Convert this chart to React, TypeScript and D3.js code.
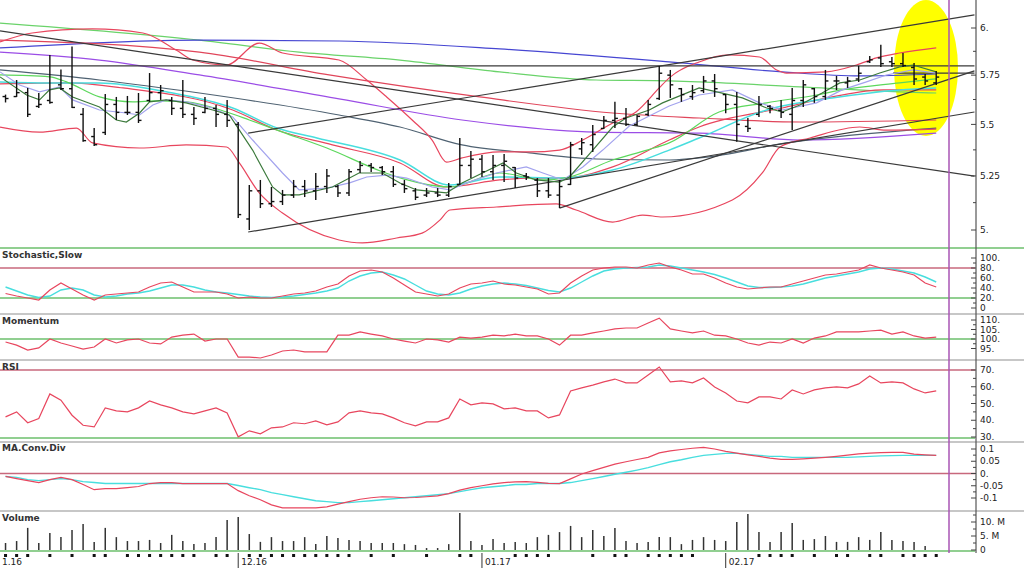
import * as d3 from "d3";

// ---- daily price bars, bar index 0..84 ----
const high = [5.65,5.725,5.684,5.658,5.856,5.78,5.90,5.582,5.482,5.653,
  5.638,5.643,5.658,5.761,5.699,5.638,5.725,5.587,5.638,5.597,
  5.623,5.512,5.207,5.231,5.198,5.184,5.231,5.231,5.264,5.283,
  5.207,5.283,5.321,5.312,5.297,5.297,5.231,5.193,5.193,5.193,
  5.217,5.433,5.37,5.35,5.35,5.355,5.293,5.264,5.24,5.24,
  5.231,5.414,5.433,5.497,5.542,5.613,5.582,5.547,5.623,5.798,
  5.777,5.684,5.699,5.746,5.756,5.653,5.663,5.532,5.643,5.597,
  5.623,5.684,5.725,5.684,5.777,5.746,5.741,5.798,5.85,5.91,
  5.845,5.866,5.813,5.756,5.772];
const low = [5.61,5.638,5.537,5.582,5.603,5.673,5.582,5.414,5.394,5.448,
  5.522,5.547,5.507,5.613,5.623,5.547,5.532,5.497,5.556,5.487,
  5.487,5.054,5.0,5.10,5.105,5.114,5.147,5.151,5.137,5.17,
  5.151,5.156,5.264,5.269,5.254,5.198,5.17,5.137,5.151,5.151,
  5.151,5.207,5.24,5.245,5.231,5.221,5.193,5.231,5.151,5.147,
  5.10,5.207,5.35,5.365,5.477,5.482,5.492,5.492,5.542,5.623,
  5.633,5.613,5.623,5.658,5.638,5.556,5.414,5.462,5.537,5.556,
  5.532,5.472,5.587,5.608,5.623,5.673,5.684,5.715,5.813,5.793,
  5.793,5.793,5.699,5.699,5.699];
const open = [5.64,5.64,5.66,5.59,5.62,5.70,5.68,5.55,5.44,5.46,
  5.60,5.56,5.56,5.62,5.66,5.62,5.58,5.55,5.56,5.58,
  5.55,5.50,5.05,5.18,5.12,5.13,5.16,5.20,5.18,5.20,
  5.20,5.17,5.28,5.30,5.29,5.27,5.21,5.18,5.16,5.17,
  5.16,5.21,5.30,5.33,5.27,5.30,5.29,5.25,5.23,5.18,
  5.16,5.21,5.38,5.40,5.48,5.52,5.53,5.50,5.55,5.63,
  5.75,5.68,5.64,5.67,5.72,5.65,5.60,5.49,5.55,5.59,
  5.57,5.55,5.62,5.68,5.64,5.72,5.71,5.73,5.82,5.84,
  5.82,5.81,5.79,5.74,5.71];
const close = [5.63,5.66,5.55,5.60,5.61,5.68,5.585,5.42,5.40,5.60,
  5.56,5.56,5.52,5.66,5.67,5.58,5.55,5.53,5.58,5.55,
  5.52,5.07,5.18,5.12,5.13,5.16,5.20,5.18,5.20,5.25,
  5.17,5.27,5.30,5.29,5.27,5.21,5.19,5.15,5.17,5.16,
  5.20,5.30,5.33,5.27,5.30,5.32,5.24,5.245,5.18,5.16,
  5.20,5.40,5.41,5.45,5.52,5.53,5.50,5.54,5.60,5.76,
  5.70,5.65,5.66,5.72,5.68,5.60,5.50,5.48,5.60,5.58,
  5.56,5.62,5.70,5.64,5.72,5.72,5.72,5.76,5.83,5.81,
  5.81,5.80,5.73,5.72,5.74];
// volume in millions
const volume = [2.5,3.2,7.9,2.5,6.1,4.6,7.1,9.3,2.9,7.9,
  4.6,3.2,3.2,3.6,2.5,5.4,3.2,2.1,2.5,4.6,
  10.7,11.8,5.7,2.9,4.6,3.2,3.2,4.6,2.1,5.0,
  4.3,3.6,3.2,2.5,2.5,2.5,2.1,1.8,0.7,0.7,
  2.1,13.2,3.2,1.8,3.9,2.5,2.9,2.5,4.6,5.4,
  6.4,8.6,4.6,7.1,5.0,7.9,3.2,2.5,2.9,4.6,
  4.6,2.1,3.6,4.6,3.6,3.2,10.0,12.9,6.4,2.9,
  6.4,9.6,3.6,3.9,5.0,2.9,2.9,4.6,3.6,6.4,
  3.6,3.2,2.9,1.4,0];

// ---- indicators ----
const stochK = [29,24,20,16,36,50,38,26,16,26,
  28,30,32,42,50,52,42,32,32,32,
  28,20,22,20,20,24,28,30,34,42,
  48,64,74,76,72,60,46,32,28,24,
  28,40,48,50,54,48,46,42,38,28,
  30,50,64,76,80,82,82,80,86,90,
  82,76,68,68,60,50,42,38,40,42,
  42,48,54,60,66,68,72,76,86,80,
  76,72,66,50,42];
const stochD = [42,34,26,21,24,36,40,36,26,22,
  24,28,30,34,40,46,46,42,36,32,
  30,27,24,22,21,22,24,27,30,34,
  40,54,64,70,72,66,58,46,34,28,
  26,30,38,44,48,50,48,45,40,35,
  32,40,52,64,74,78,80,81,82,86,
  84,80,76,72,67,60,52,44,41,41,
  42,44,48,54,60,64,68,72,78,80,
  78,74,70,62,52];
const momentum = [98.4,96.8,94.2,95.3,100,97.9,96.3,94.7,95.8,100,
  97.9,99.5,100,97.9,97.4,101,102,102.6,98.9,100,
  100,90.5,90.5,90,91.6,93.7,94.2,93.2,93.2,93.2,
  102,102,103.7,102.6,101.6,100,98.9,97.9,100,99.5,
  98.4,101,100.5,101,102,101.6,102.6,101.6,101.6,100,
  96.8,102,102,103.2,104.2,105.3,105.8,105.8,108.4,111,
  105.3,104.2,103.2,104.2,102,101.6,100,97.9,96.8,98.4,
  97.9,100,97.9,100.5,101.6,103.7,103.7,103.7,104.2,104.7,
  102.6,103.7,101.6,100.5,101];
const rsi = [42,45,38.5,41,55.7,52,43,37,36,47.4,
  45.6,45,47.4,51.5,49.2,47.4,45,43.8,45.6,47.4,
  44.4,30.1,33.7,31.9,35.5,36,38.5,37.9,39.6,37.3,
  39,44.4,45.6,44.4,43.8,41.4,38.5,36.7,39,39,
  41.4,52.7,49.2,50.4,49.8,46.8,47.4,45.6,45.6,41.4,
  43.2,57.5,59.3,61,62.9,64.6,62.3,62.3,67,71.8,
  62.9,63.5,62.3,65.2,59.9,56.3,51.5,50.4,53.9,53.9,
  52.7,58.1,55.7,58.1,59.3,59.9,59.3,61.7,66.4,62.3,
  62.9,62.3,58.7,56.3,57.5];
const macd = [-0.012,-0.021,-0.029,-0.037,-0.025,-0.016,-0.025,-0.045,-0.066,-0.062,
  -0.062,-0.058,-0.053,-0.041,-0.037,-0.037,-0.041,-0.041,-0.041,-0.041,
  -0.041,-0.07,-0.091,-0.107,-0.128,-0.14,-0.14,-0.14,-0.14,-0.136,
  -0.125,-0.115,-0.105,-0.099,-0.095,-0.096,-0.099,-0.098,-0.095,-0.091,
  -0.082,-0.068,-0.058,-0.05,-0.042,-0.037,-0.034,-0.033,-0.036,-0.04,
  -0.041,-0.022,-0.002,0.012,0.025,0.038,0.048,0.057,0.066,0.084,
  0.092,0.098,0.103,0.107,0.1,0.09,0.083,0.076,0.07,0.063,
  0.058,0.058,0.06,0.063,0.066,0.07,0.075,0.08,0.083,0.085,
  0.086,0.086,0.079,0.076,0.074];
const macdSignal = [-0.012,-0.016,-0.025,-0.029,-0.025,-0.021,-0.025,-0.033,-0.037,-0.041,
  -0.041,-0.041,-0.041,-0.041,-0.041,-0.041,-0.041,-0.041,-0.041,-0.041,
  -0.041,-0.049,-0.058,-0.066,-0.078,-0.086,-0.095,-0.103,-0.111,-0.115,
  -0.119,-0.119,-0.115,-0.111,-0.107,-0.103,-0.099,-0.095,-0.091,-0.087,
  -0.082,-0.074,-0.066,-0.058,-0.054,-0.05,-0.045,-0.045,-0.041,-0.041,
  -0.041,-0.037,-0.029,-0.021,-0.012,-0.003,0.005,0.014,0.024,0.036,
  0.048,0.056,0.066,0.074,0.078,0.082,0.082,0.078,0.074,0.07,
  0.07,0.066,0.066,0.066,0.066,0.066,0.066,0.068,0.07,0.072,
  0.073,0.074,0.074,0.074,0.074];

// ---- overlays on the price panel: [bar, price] ----
const bbUpper = [[-0.5,5.925],[2.4,5.973],[7.85,5.995],[12.4,5.973],[15.4,5.882],[16.9,5.829],[19.95,5.803],[22.9,5.919],[25,5.866],[30.1,5.829],[32.6,5.725],[34.4,5.638],[36.7,5.522],[38.5,5.423],[39.8,5.316],[41.2,5.336],[44.6,5.365],[47.3,5.365],[50,5.374],[52.1,5.423],[54.8,5.507],[56.9,5.562],[59,5.684],[59.9,5.736],[62.6,5.819],[65.3,5.856],[68.05,5.845],[69.6,5.777],[70.5,5.761],[74.1,5.767],[76.8,5.803],[78.6,5.84],[80.7,5.866],[84,5.893]];
const bbLower = [[-0.5,5.487],[3.07,5.462],[6.4,5.482],[7.85,5.409],[12.1,5.384],[16.3,5.399],[19.95,5.389],[21.1,5.312],[22.9,5.17],[25,5.077],[30.1,4.955],[32.2,4.942],[35.3,4.964],[37.6,4.986],[39.2,5.045],[40.1,5.091],[44.3,5.105],[49.7,5.119],[51.5,5.091],[54.8,5.036],[57.5,5.068],[59.3,5.059],[65.6,5.137],[68.3,5.264],[69.9,5.389],[72.6,5.433],[77.1,5.487],[79.5,5.472],[84,5.477]];
const bbMid = [[-0.5,5.705],[5.5,5.71],[10.6,5.684],[20.5,5.572],[24.5,5.472],[29.5,5.399],[35.6,5.312],[39.8,5.198],[44.6,5.231],[47.3,5.24],[50.3,5.24],[54.8,5.293],[59.9,5.423],[62.6,5.487],[70.1,5.582],[74.6,5.638],[79.2,5.674],[84,5.674]];
const maRed = [[-0.5,5.935],[17.5,5.871],[29.2,5.751],[42.8,5.638],[54.8,5.557],[62.6,5.532],[71.7,5.512],[84,5.522]];
const maGreenLong = [[-0.5,6.027],[17.5,5.935],[26.5,5.871],[35.6,5.829],[44.6,5.767],[53.3,5.725],[59.9,5.72],[62.6,5.715],[71.7,5.689],[80.7,5.664],[84,5.658]];
const maBlue = [[-0.5,5.893],[17.5,5.935],[30.1,5.93],[44.6,5.888],[59.9,5.819],[70.1,5.767],[77.1,5.746],[84,5.756]];
const maPurple = [[-0.5,5.871],[8.48,5.829],[17.5,5.751],[30.1,5.628],[41.2,5.522],[53.3,5.462],[62.6,5.457],[71.7,5.423],[84,5.457]];
const maSlate = [[-0.5,5.777],[8.48,5.725],[17.5,5.658],[30.1,5.547],[35.6,5.487],[41.2,5.399],[47.3,5.36],[53.3,5.331],[59.9,5.326],[63.5,5.341],[70.5,5.409],[84,5.482]];
const maCyan = [[-0.5,5.715],[3.97,5.71],[8.48,5.71],[14.5,5.664],[20.5,5.582],[24.5,5.482],[28.1,5.433],[35.6,5.326],[40.1,5.207],[44.6,5.245],[50.3,5.24],[54.8,5.278],[59.9,5.374],[62.6,5.433],[68.7,5.572],[74.6,5.633],[80.7,5.674],[84,5.684]];
const maGreenMid = [[-0.5,5.751],[3.97,5.741],[5.5,5.715],[8.48,5.638],[11.5,5.613],[13.6,5.618],[16.3,5.613],[19.95,5.562],[22,5.522],[25,5.462],[29,5.384],[34,5.27],[36,5.235],[40.1,5.198],[44.6,5.264],[48.5,5.231],[50.9,5.245],[54.8,5.326],[57.9,5.374],[59.9,5.409],[64.4,5.562],[68.7,5.608],[73.2,5.648],[75.5,5.674],[80.7,5.71],[84,5.731]];
const maDark = [[-0.5,5.741],[1.9,5.648],[3.07,5.623],[3.97,5.674],[4.87,5.684],[6.05,5.638],[8.48,5.587],[10,5.522],[10.9,5.512],[12.1,5.557],[13,5.613],[14.5,5.623],[16.3,5.608],[18.7,5.572],[20.2,5.547],[22.3,5.374],[24.1,5.198],[25,5.161],[26.5,5.161],[29.5,5.198],[31.9,5.264],[34,5.264],[35.6,5.217],[37.1,5.184],[39.8,5.17],[41.2,5.217],[44.9,5.312],[46.1,5.264],[47.9,5.231],[50,5.221],[50.9,5.245],[53,5.374],[54.8,5.487],[56,5.532],[58.1,5.572],[59.3,5.608],[62.6,5.684],[64.2,5.664],[66.5,5.633],[68.7,5.582],[70.1,5.562],[71.7,5.597],[73.7,5.658],[75.3,5.71],[77.1,5.725],[78.9,5.761],[80.7,5.793],[81.9,5.803],[84,5.767]];
const maLavender = [[-0.5,5.767],[1.26,5.699],[3.07,5.664],[4.87,5.689],[6.05,5.623],[8.48,5.572],[10.9,5.557],[12.1,5.547],[13.3,5.597],[14.5,5.623],[16.3,5.613],[18.7,5.582],[20.5,5.537],[22.3,5.423],[25,5.264],[26.5,5.184],[29,5.193],[31.05,5.217],[32.6,5.245],[34.4,5.254],[36.2,5.24],[38.5,5.198],[40.1,5.184],[41.6,5.217],[44.3,5.264],[47,5.293],[48.5,5.264],[50.3,5.231],[52.1,5.293],[53.9,5.374],[56.3,5.492],[58.1,5.542],[59.9,5.592],[62.6,5.648],[65.6,5.674],[68.05,5.608],[70.1,5.572],[73.2,5.608],[75.5,5.674],[77.7,5.715],[79.5,5.751],[81.9,5.777],[84,5.761]];
const trendLines = [
  [[-0.5,5.984],[87.45,5.249]],
  [[-0.5,5.798],[87.45,5.798]],
  [[21.9,4.991],[87.45,5.562]],
  [[21.9,5.457],[87.45,6.071]],
  [[50,5.10],[87.45,5.772]],
  [[80.1,5.761],[87.45,5.761]],
];

// ---- axis ticks ----
const priceTicks = [5, 5.25, 5.5, 5.75, 6];
const priceLabels = ["5.", "5.25", "5.5", "5.75", "6."];
const priceMinor = [5.125, 5.375, 5.625, 5.875];
const stochTicks = [0, 20, 40, 60, 80, 100];
const stochLabels = ["0", "20.", "40.", "60.", "80.", "100."];
const momTicks = [95, 100, 105, 110];
const momLabels = ["95.", "100.", "105.", "110."];
const rsiTicks = [30, 40, 50, 60, 70];
const rsiLabels = ["30.", "40.", "50.", "60.", "70."];
const macdTicks = [-0.1, -0.05, 0, 0.05, 0.1];
const macdLabels = ["-0.1", "-0.05", "0.", "0.05", "0.1"];
const volTicks = [0, 5, 10];
const volLabels = ["0", "5. M", "10. M"];
const monthBars = [21, 43, 65];
const monthLabels = ["12.16", "01.17", "02.17"];
const markerBars = [0,1,2,4,6,8,9,11,12,13,14,15,16,17,19,20,22,23,24,25,26,27,28,29,30,31,33,35,38,41,42,46,47,48,49,53,55,56,58,59,60,61,62,68,69,70,71,73,75,76,78,79,81,82,83,84];

const W = 1024;
const H = 568;
const PLOT_W = 975;
const AX = 976;
const FONT = "DejaVu Sans, Verdana, sans-serif";

const x = d3.scaleLinear().domain([-0.5, 87.5]).range([0, PLOT_W]);
const yPrice = d3.scaleLog().domain([5, 6]).range([230, 28]);
const yStoch = d3.scaleLinear().domain([0, 100]).range([308, 258]);
const yMom = d3.scaleLinear().domain([90, 110]).range([358, 320]);
const yRsi = d3.scaleLinear().domain([30, 70]).range([437, 370]);
const yMacd = d3.scaleLinear().domain([-0.1, 0.1]).range([498, 449]);
const yVol = d3.scaleLinear().domain([0, 10]).range([550, 522]);

const RED = "#e8465e";
const GREEN_REF = "#6cbf6c";
const RED_REF = "#c8687c";
const GRAY_SEP = "#b4b4b4";

function series(values: number[], y: any) {
  return d3.line<number>().x((_, i) => x(i)).y((d) => y(d))(values) || "";
}
function overlay(pts: number[][], curved = true) {
  const gen = d3.line<number[]>().x((d) => x(d[0])).y((d) => yPrice(d[1]));
  if (curved) gen.curve(d3.curveMonotoneX);
  return gen(pts) || "";
}

function Axis({ y, ticks, labels, minor }: any) {
  return (
    <g>
      {ticks.map((t: number, i: number) => (
        <g key={"t" + i}>
          <line x1={AX - 5} x2={AX} y1={y(t)} y2={y(t)} stroke="#444" />
          <text x={AX + 4} y={y(t)} dy="0.35em" fontSize={9} fontFamily={FONT} fill="#222">
            {labels[i]}
          </text>
        </g>
      ))}
      {minor.map((t: number, i: number) => (
        <line key={"m" + i} x1={AX - 3} x2={AX} y1={y(t)} y2={y(t)} stroke="#444" />
      ))}
    </g>
  );
}

function Title({ y, text }: { y: number; text: string }) {
  return (
    <text x={2} y={y} dy="0.35em" fontSize={9} fontWeight="bold" fontFamily={FONT} fill="#333">
      {text}
    </text>
  );
}

export default function App() {
  const idx = d3.range(high.length);
  return (
    <svg width={W} height={H} style={{ position: "absolute", left: 0, top: 0, background: "#fff" }}>
      <defs>
        <clipPath id="mainClip">
          <rect x={0} y={0} width={PLOT_W} height={247} />
        </clipPath>
      </defs>
      <rect width={W} height={H} fill="#fff" />

      {/* highlight */}
      <ellipse cx={926} cy={68} rx={32} ry={68} fill="#ffff00" />

      {/* panel separators and reference lines */}
      <line x1={0} x2={W} y1={248} y2={248} stroke={GREEN_REF} strokeWidth={1.5} />
      {[314, 360, 442, 511].map((v) => (
        <line key={v} x1={0} x2={W} y1={v} y2={v} stroke={GRAY_SEP} strokeWidth={1.5} />
      ))}
      <line x1={0} x2={PLOT_W} y1={yStoch(80)} y2={yStoch(80)} stroke={RED_REF} strokeWidth={1.5} />
      <line x1={0} x2={PLOT_W} y1={yStoch(20)} y2={yStoch(20)} stroke={GREEN_REF} strokeWidth={1.5} />
      <line x1={0} x2={PLOT_W} y1={yMom(100)} y2={yMom(100)} stroke={GREEN_REF} strokeWidth={1.5} />
      <line x1={0} x2={PLOT_W} y1={yRsi(70)} y2={yRsi(70)} stroke={RED_REF} strokeWidth={1.5} />
      <line x1={0} x2={PLOT_W} y1={yRsi(30) + 1} y2={yRsi(30) + 1} stroke={GREEN_REF} strokeWidth={1.5} />
      <line x1={0} x2={PLOT_W} y1={yMacd(0)} y2={yMacd(0)} stroke={RED_REF} strokeWidth={1.5} />
      <line x1={0} x2={PLOT_W} y1={yVol(0) + 1} y2={yVol(0) + 1} stroke={GREEN_REF} strokeWidth={1.5} />

      {/* price panel overlays */}
      <g clipPath="url(#mainClip)" fill="none" strokeWidth={1.2}>
        <path d={overlay(maGreenLong)} stroke="#6ad36a" />
        <path d={overlay(maBlue)} stroke="#4646d2" />
        <path d={overlay(maRed)} stroke="#e0455a" />
        <path d={overlay(maPurple)} stroke="#9b4de6" />
        <path d={overlay(maSlate)} stroke="#4f6272" />
        <path d={overlay(bbUpper)} stroke={RED} />
        <path d={overlay(bbLower)} stroke={RED} />
        <path d={overlay(bbMid)} stroke={RED} />
        <path d={overlay(maCyan)} stroke="#48dede" strokeWidth={1.5} />
        <path d={overlay(maGreenMid)} stroke="#5cd85c" />
        {trendLines.map((l, i) => (
          <path key={i} d={overlay(l, false)} stroke="#3a3a3a" />
        ))}
        <path d={overlay(maLavender, false)} stroke="#a3a3ee" />
        <path d={overlay(maDark, false)} stroke="#3c7a3c" />
        {idx.map((i) => (
          <g key={i} stroke="#111" strokeWidth={1.4}>
            <line x1={x(i)} x2={x(i)} y1={yPrice(high[i])} y2={yPrice(low[i])} />
            <line x1={x(i) - 3} x2={x(i)} y1={yPrice(open[i])} y2={yPrice(open[i])} />
            <line x1={x(i)} x2={x(i) + 3} y1={yPrice(close[i])} y2={yPrice(close[i])} />
          </g>
        ))}
      </g>

      {/* stochastic */}
      <path d={series(stochD, yStoch)} fill="none" stroke="#48dede" strokeWidth={1.4} />
      <path d={series(stochK, yStoch)} fill="none" stroke={RED} strokeWidth={1.2} />
      {/* momentum */}
      <path d={series(momentum, yMom)} fill="none" stroke={RED} strokeWidth={1.2} />
      {/* rsi */}
      <path d={series(rsi, yRsi)} fill="none" stroke={RED} strokeWidth={1.2} />
      {/* macd */}
      <path d={series(macdSignal, yMacd)} fill="none" stroke="#48dede" strokeWidth={1.4} />
      <path d={series(macd, yMacd)} fill="none" stroke={RED} strokeWidth={1.2} />
      {/* volume */}
      {idx.map((i) => (
        <line key={i} x1={x(i)} x2={x(i)} y1={yVol(0)} y2={yVol(volume[i])} stroke="#333" strokeWidth={1.5} />
      ))}

      {/* titles */}
      <Title y={255} text="Stochastic,Slow" />
      <Title y={321} text="Momentum" />
      <Title y={367} text="RSI" />
      <Title y={448} text="MA.Conv.Div" />
      <Title y={518} text="Volume" />

      {/* date axis */}
      {markerBars.map((b) => (
        <rect key={b} x={x(b) - 1.5} y={554} width={3} height={3} fill="#111" />
      ))}
      {monthBars.map((b, i) => (
        <g key={b}>
          <line x1={x(b)} x2={x(b)} y1={553} y2={568} stroke="#333" />
          <text x={x(b) + 3} y={565} fontSize={9} fontFamily={FONT} fill="#222">
            {monthLabels[i]}
          </text>
        </g>
      ))}
      <text x={2} y={565} fontSize={9} fontFamily={FONT} fill="#222">1.16</text>

      {/* marker line */}
      <line x1={949} x2={949} y1={0} y2={553} stroke="#a855b5" strokeWidth={1.5} />

      {/* value axis */}
      <line x1={AX} x2={AX} y1={0} y2={553} stroke="#555" strokeWidth={1.2} />
      <Axis y={yPrice} ticks={priceTicks} labels={priceLabels} minor={priceMinor} />
      <Axis y={yStoch} ticks={stochTicks} labels={stochLabels} minor={[10, 30, 50, 70, 90]} />
      <Axis y={yMom} ticks={momTicks} labels={momLabels} minor={[97.5, 102.5, 107.5]} />
      <Axis y={yRsi} ticks={rsiTicks} labels={rsiLabels} minor={[35, 45, 55, 65]} />
      <Axis y={yMacd} ticks={macdTicks} labels={macdLabels} minor={[-0.075, -0.025, 0.025, 0.075]} />
      <Axis y={yVol} ticks={volTicks} labels={volLabels} minor={[2.5, 7.5, 12.5]} />
    </svg>
  );
}
